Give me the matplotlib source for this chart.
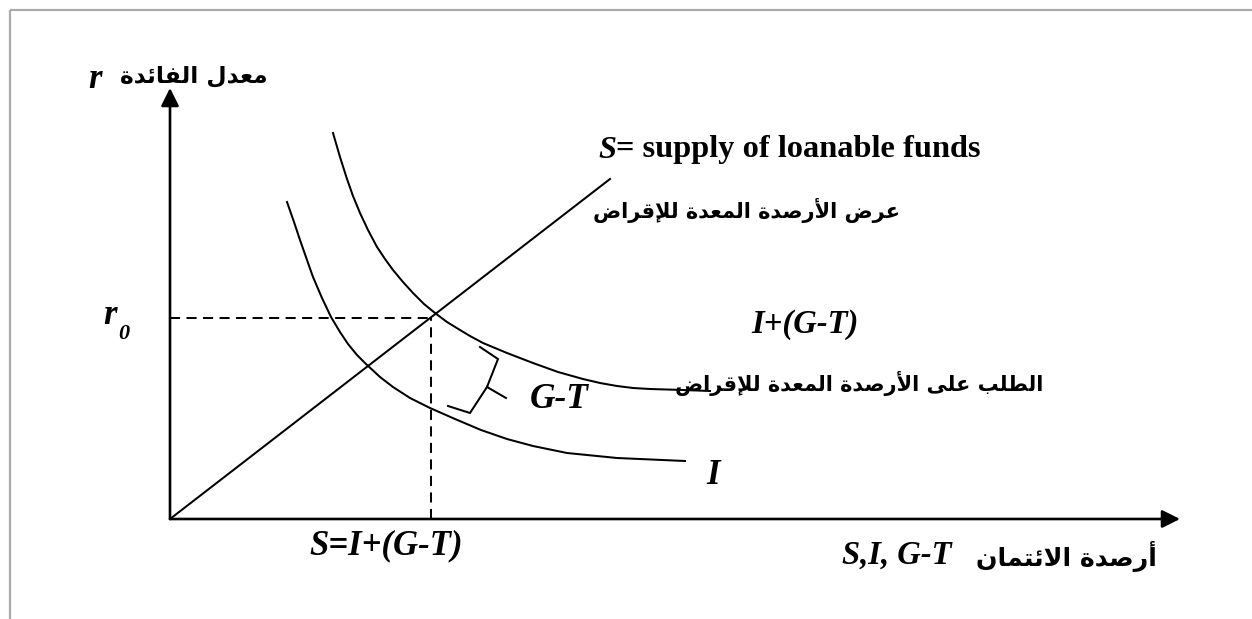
import matplotlib
matplotlib.use("Agg")
import matplotlib.pyplot as plt

# ---------------- data (economic units: Q = loanable funds, R = interest rate) -------------
supply_q = [0, 440]
supply_r = [0, 340]

demand_total_q = [163, 170, 177, 183, 190, 198, 207, 215, 223, 233, 243, 254, 265, 277,
                  290, 300, 313, 337, 363, 388, 413, 430, 447, 463, 480, 513, 540]
demand_total_r = [386, 362, 340, 323, 306, 289, 272, 260, 249, 237, 226, 215, 206, 197,
                  189, 183, 176, 166, 156, 147, 140, 136, 133, 131, 130, 129, 128]

invest_q = [117, 124, 130, 137, 143, 152, 161, 170, 178, 187, 196, 210, 223, 240, 260,
            285, 311, 337, 363, 397, 447, 515]
invest_r = [317, 297, 279, 259, 242, 221, 202, 187, 175, 164, 155, 142, 132, 121, 111,
            100, 89, 80, 73, 66, 61, 58]

equil_q = 261
equil_r = 201

x_axis_end = 1010
y_axis_end = 431

brace_upper_q = [310, 328, 317, 336]
brace_upper_r = [172, 160, 132, 121]
brace_lower_q = [317, 300, 278]
brace_lower_r = [132, 106, 113]

# text labels
ylabel_ar = "معدل الفائدة"
xlabel_ar = "أرصدة الائتمان"
supply_ar = "عرض الأرصدة المعدة للإقراض"
demand_ar = "الطلب على الأرصدة المعدة للإقراض"

# ---------------- minimal Arabic shaping (presentation forms, visual order) -----------------
FORMS = {
    '\u0627': ('\uFE8D', '\uFE8E', None, None),
    '\u0623': ('\uFE83', '\uFE84', None, None),
    '\u0625': ('\uFE87', '\uFE88', None, None),
    '\u0626': ('\uFE89', '\uFE8A', '\uFE8B', '\uFE8C'),
    '\u0628': ('\uFE8F', '\uFE90', '\uFE91', '\uFE92'),
    '\u0629': ('\uFE93', '\uFE94', None, None),
    '\u062A': ('\uFE95', '\uFE96', '\uFE97', '\uFE98'),
    '\u062F': ('\uFEA9', '\uFEAA', None, None),
    '\u0631': ('\uFEAD', '\uFEAE', None, None),
    '\u0635': ('\uFEB9', '\uFEBA', '\uFEBB', '\uFEBC'),
    '\u0636': ('\uFEBD', '\uFEBE', '\uFEBF', '\uFEC0'),
    '\u0637': ('\uFEC1', '\uFEC2', '\uFEC3', '\uFEC4'),
    '\u0639': ('\uFEC9', '\uFECA', '\uFECB', '\uFECC'),
    '\u0641': ('\uFED1', '\uFED2', '\uFED3', '\uFED4'),
    '\u0642': ('\uFED5', '\uFED6', '\uFED7', '\uFED8'),
    '\u0644': ('\uFEDD', '\uFEDE', '\uFEDF', '\uFEE0'),
    '\u0645': ('\uFEE1', '\uFEE2', '\uFEE3', '\uFEE4'),
    '\u0646': ('\uFEE5', '\uFEE6', '\uFEE7', '\uFEE8'),
    '\u0649': ('\uFEEF', '\uFEF0', None, None),
}
LAM_ALEF = {'\u0627': ('\uFEFB', '\uFEFC'), '\u0623': ('\uFEF7', '\uFEF8'),
            '\u0625': ('\uFEF9', '\uFEFA'), '\u0622': ('\uFEF5', '\uFEF6')}


def shape(s):
    units = []
    i = 0
    while i < len(s):
        c = s[i]
        if c == '\u0644' and i + 1 < len(s) and s[i + 1] in LAM_ALEF:
            iso, fin = LAM_ALEF[s[i + 1]]
            units.append((iso, fin, None, None))
            i += 2
        elif c in FORMS:
            units.append(FORMS[c])
            i += 1
        else:
            units.append(c)
            i += 1
    out = []
    for k, u in enumerate(units):
        if isinstance(u, str):
            out.append(u)
            continue
        prev = units[k - 1] if k > 0 else None
        nxt = units[k + 1] if k + 1 < len(units) else None
        jp = isinstance(prev, tuple) and prev[2] is not None
        jn = u[2] is not None and isinstance(nxt, tuple)
        if jp and jn:
            g = u[3]
        elif jn:
            g = u[2]
        elif jp:
            g = u[1]
        else:
            g = u[0]
        out.append(g)
    return ''.join(reversed(out))


# ---------------- figure ----------------
W, H = 1252, 619
OX, OY = 170, 519  # pixel position of the origin
fig = plt.figure(figsize=(W / 100, H / 100), dpi=100)
ax = fig.add_axes([0, 0, 1, 1])
ax.set_xlim(-OX, W - OX)
ax.set_ylim(-(H - OY), OY)
ax.axis('off')


def P(px, py):
    return px - OX, OY - py


# frame (top and left edges)
fx0, fy0 = P(10, 10)
fx1, fy1 = P(1252, 619)
ax.plot([fx0, fx1], [fy0, fy0], color='#ababab', lw=1.6, solid_capstyle='butt')
ax.plot([fx0, fx0], [fy0, fy1], color='#ababab', lw=1.6, solid_capstyle='butt')

LW = 1.45
# axes with arrows
arrow = dict(arrowstyle='-|>,head_length=10.8,head_width=5.4', color='black', lw=1.9,
             shrinkA=0, shrinkB=0, mutation_scale=1)
ax.annotate('', xy=(0, y_axis_end), xytext=(0, 0), arrowprops=arrow)
ax.annotate('', xy=(x_axis_end, 0), xytext=(0, 0), arrowprops=arrow)

# supply line
ax.plot(supply_q, supply_r, color='black', lw=LW)
# demand curves
ax.plot(demand_total_q, demand_total_r, color='black', lw=LW, solid_joinstyle='round')
ax.plot(invest_q, invest_r, color='black', lw=LW, solid_joinstyle='round')

# dashed equilibrium lines
ax.plot([0, equil_q], [equil_r, equil_r], color='black', lw=LW, dashes=(5, 3.2))
ax.plot([equil_q, equil_q], [0, equil_r], color='black', lw=LW, dashes=(5, 3.2))

# brace
ax.plot(brace_upper_q, brace_upper_r, color='black', lw=LW, solid_joinstyle='miter')
ax.plot(brace_lower_q, brace_lower_r, color='black', lw=LW, solid_joinstyle='miter')

# ---------------- texts ----------------
EN = dict(family='Liberation Serif', weight='bold', style='italic', color='black')
AR = dict(family=['DejaVu Sans'], weight='bold', color='black')

texts_fit = []


def ar_text(px0, px1, py, s, size=17, grow=1.0):
    x, y = P(px1, py)
    t = ax.text(x, y, shape(s), ha='right', va='center', fontsize=size, **AR)
    texts_fit.append((t, (px1 - px0) * grow))
    return t


ax.text(*P(95, 79), 'r', ha='center', va='center', fontsize=25, **EN)
ar_text(120, 268, 76, ylabel_ar)

ax.text(*P(110, 316), 'r', ha='center', va='center', fontsize=25, **EN)
ax.text(*P(124, 334), '0', ha='center', va='center', fontsize=16, **EN)

ax.text(*P(386, 546), 'S=I+(G-T)', ha='center', va='center', fontsize=25, **EN)
ax.text(*P(952, 555), 'S,I, G-T', ha='right', va='center', fontsize=23.5, **EN)
ar_text(983, 1157, 556, xlabel_ar, grow=1.04)

s_t = ax.text(*P(598, 150), 'S', ha='left', va='center', fontsize=23.3, **EN)
ax.annotate('= supply of loanable funds', xy=(1, 0), xycoords=s_t, ha='left', va='bottom',
            fontsize=23.3, family='Liberation Serif', weight='bold', color='black')
ar_text(600, 900, 210, supply_ar, grow=1.02)

ax.text(*P(805, 325), 'I+(G-T)', ha='center', va='center', fontsize=23.5, **EN)
ar_text(682, 1043, 383, demand_ar, grow=1.02)

ax.text(*P(559, 400), 'G-T', ha='center', va='center', fontsize=25.5, **EN)
ax.text(*P(713, 476), 'I', ha='center', va='center', fontsize=25, **EN)

# fit Arabic labels to their measured widths
fig.canvas.draw()
r = fig.canvas.get_renderer()
for t, target in texts_fit:
    w = t.get_window_extent(r).width
    t.set_fontsize(t.get_fontsize() * target / w)

fig.savefig('out.png', dpi=100)
